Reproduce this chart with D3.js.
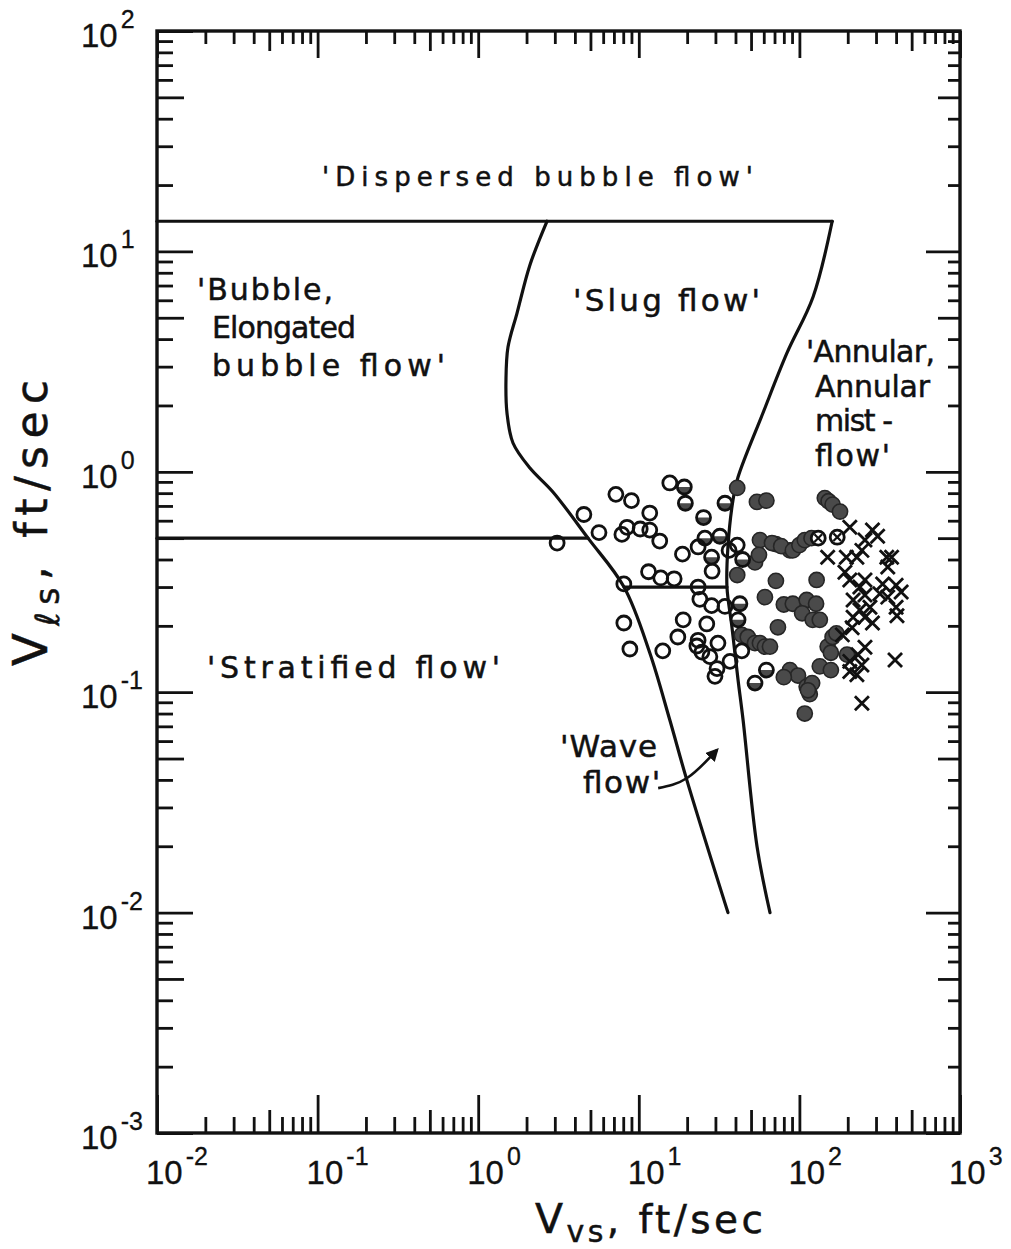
<!DOCTYPE html>
<html><head><meta charset="utf-8">
<script src="https://cdn.jsdelivr.net/npm/d3@7"></script>
<style>
html,body{margin:0;padding:0;background:#fff;}
svg{display:block;}
text{font-family:"DejaVu Sans",Verdana,sans-serif;fill:#111;stroke:#111;stroke-width:0.5px;}
text.num{font-family:"Liberation Sans",Arial,sans-serif;stroke-width:0.3px;}
</style></head><body>
<svg id="chart" width="1011" height="1249"></svg>
<script>
// ---------------- data (superficial velocities, ft/sec) ----------------
const xDomain = [1e-2, 1e3];          // V_vs
const yDomain = [1e-3, 1e2];          // V_ls
const xDecades = [-2, -1, 0, 1, 2, 3];
const yDecades = [-3, -2, -1, 0, 1, 2];

// regime boundaries [V_vs, V_ls]
const dispersedBoundary  = [[0.01, 13.7], [160, 13.7]];
const stratifiedBoundary = [[0.01, 0.5], [4.83, 0.5]];
const waveBoundary       = [[8.09, 0.30], [35.4, 0.30]];
const slugBubbleBoundary = [[2.68, 13.7], [2.10, 8.68], [1.745, 5.25], [1.533, 3.68], [1.489, 2.61],
  [1.511, 1.848], [1.647, 1.351], [2.10, 1.04], [2.92, 0.81], [4.83, 0.50], [8.09, 0.30],
  [11.7, 0.151], [15.6, 0.0748], [19.9, 0.040], [35.9, 0.010]];
const annularBoundary = [[160, 13.7], [121.6, 6.21], [83.7, 3.46], [59.3, 1.848], [41.5, 0.947],
  [38.6, 0.745], [35.9, 0.456], [35.4, 0.30], [38.0, 0.198], [41.5, 0.1136], [44.6, 0.0748],
  [54.5, 0.0199], [65.6, 0.010]];

// observations [V_vs, V_ls]
const openPoints = [[3.10,0.475],[4.55,0.64],[5.65,0.53],[7.2,0.79],[9.0,0.74],[15.6,0.89],[11.7,0.65],
  [7.85,0.52],[8.45,0.56],[10.2,0.55],[11.7,0.544],[13.5,0.485],[18.7,0.423],[11.5,0.352],[13.7,0.33],
  [16.6,0.327],[8.07,0.31],[8.07,0.206],[8.8,0.157],[14.1,0.154],[17.5,0.178],[18.9,0.213],[26.5,0.204],
  [23.4,0.172],[23.0,0.162],[24.7,0.152],[27.7,0.145],[31.1,0.167],[30.7,0.128],[29.8,0.118],[37.0,0.138],
  [23.4,0.30],[24.0,0.264],[28.4,0.247],[34.4,0.245],[23.4,0.456],[28.6,0.354],[36.5,0.44],[41.0,0.465],
  [43.8,0.154]];
const halfPoints = [[19.2,0.853],[19.5,0.72],[25.3,0.62],[34.4,0.72],[25.8,0.50],[32.0,0.51],[28.4,0.41],
  [44.3,0.40],[42.6,0.252],[41.5,0.213],[62.3,0.126],[52.9,0.110]];
const filledPoints = [[41.0,0.845],[54.4,0.73],[62.3,0.74],[144,0.76],[152,0.735],[161,0.71],[179,0.66],
  [71.4,0.47],[87.3,0.44],[56.8,0.49],[67.5,0.475],[77,0.46],[91,0.44],[100,0.465],[108,0.49],[119,0.50],
  [52.9,0.388],[56,0.42],[41,0.34],[61,0.27],[71.4,0.32],[128,0.323],[80,0.25],[91,0.252],[111,0.262],
  [127,0.252],[104,0.228],[121,0.213],[134,0.213],[73.5,0.197],[43.8,0.182],[47.7,0.178],[52.9,0.167],
  [56.8,0.167],[61,0.161],[65.6,0.161],[150,0.161],[161,0.178],[170,0.185],[157,0.151],[198,0.148],
  [134,0.131],[157,0.126],[87.3,0.126],[98,0.119],[111,0.106],[116,0.098],[108,0.080],[80,0.117],
  [120,0.110],[113,0.102]];
const crossedCirclePoints = [[131,0.50],[172,0.505]];
const crossPoints = [[206,0.56],[285,0.544],[307,0.51],[256,0.49],[150,0.41],[196,0.41],[228,0.41],
  [245,0.44],[350,0.41],[375,0.41],[355,0.37],[192,0.35],[206,0.323],[256,0.323],[238,0.30],[330,0.31],
  [400,0.306],[430,0.285],[216,0.262],[256,0.276],[355,0.27],[317,0.28],[238,0.236],[275,0.243],
  [400,0.243],[216,0.219],[256,0.219],[285,0.206],[405,0.222],[213,0.196],[185,0.182],[256,0.16],
  [232,0.148],[206,0.138],[245,0.133],[206,0.124],[228,0.12],[394,0.14],[245,0.089]];

// ---------------- layout ----------------
const svg = d3.select("#chart");
const plot = {left: 157, right: 960, top: 31, bottom: 1133};
const x = d3.scaleLog().domain(xDomain).range([plot.left, plot.right]);
const y = d3.scaleLog().domain(yDomain).range([plot.bottom, plot.top]);

// region names, anchored in data units (start, end, baseline)
const regionLabels = [
  {t: "'Dispersed bubble flow'", x0: 0.1065, x1: 51.4, y: 19.8, fs: 26},
  {t: "'Bubble,", x0: 0.01774, x1: 0.1247, y: 6.02, fs: 30},
  {t: "Elongated", x0: 0.0220, x1: 0.1734, y: 4.05, fs: 30},
  {t: "bubble flow'", x0: 0.0220, x1: 0.621, y: 2.72, fs: 30},
  {t: "'Slug flow'", x0: 3.89, x1: 56.9, y: 5.36, fs: 31},
  {t: "'Annular,", x0: 110, x1: 699, y: 3.15, fs: 30},
  {t: "Annular", x0: 125, x1: 651, y: 2.18, fs: 30},
  {t: "mist -", x0: 125, x1: 383, y: 1.53, fs: 30},
  {t: "flow'", x0: 125, x1: 367, y: 1.06, fs: 30},
  {t: "'Stratified flow'", x0: 0.0205, x1: 1.367, y: 0.116, fs: 30},
  {t: "'Wave", x0: 3.23, x1: 13.0, y: 0.0508, fs: 31},
  {t: "flow'", x0: 4.49, x1: 13.6, y: 0.0349, fs: 31}
];
const waveArrow = [[13.2, 0.0367], [20.0, 0.0408], [30.7, 0.0547]];

// ---------------- ticks ----------------
function tickSet(decades, kind) {
  const out = [];
  for (let i = 0; i < decades.length; i++) {
    const d = decades[i];
    if (kind === "major") { out.push(Math.pow(10, d)); continue; }
    if (i === decades.length - 1) continue;
    for (let k = 2; k <= 9; k++) {
      if ((kind === "mid") === (k === 5)) out.push(k * Math.pow(10, d));
    }
  }
  return out;
}
const sides = [
  {make: d3.axisBottom, scale: x, dec: xDecades, at: [0, plot.bottom], len: {major: 38, mid: 23, minor: 16}},
  {make: d3.axisTop,    scale: x, dec: xDecades, at: [0, plot.top],    len: {major: 27, mid: 20, minor: 13}},
  {make: d3.axisLeft,   scale: y, dec: yDecades, at: [plot.left, 0],   len: {major: 36, mid: 27, minor: 16}},
  {make: d3.axisRight,  scale: y, dec: yDecades, at: [plot.right, 0],  len: {major: 34, mid: 22, minor: 12}}
];
sides.forEach(s => {
  ["minor", "mid", "major"].forEach(kind => {
    const g = svg.append("g").attr("transform", `translate(${s.at[0]},${s.at[1]})`)
      .call(s.make(s.scale).tickValues(tickSet(s.dec, kind)).tickSize(-s.len[kind]).tickSizeOuter(0).tickFormat(""));
    g.select(".domain").remove();
    g.selectAll(".tick line").attr("stroke", "#111").attr("stroke-width", 2.8);
  });
});

svg.append("rect")
  .attr("x", plot.left).attr("y", plot.top)
  .attr("width", plot.right - plot.left).attr("height", plot.bottom - plot.top)
  .attr("fill", "none").attr("stroke", "#111").attr("stroke-width", 3.4);

// decade labels
xDecades.forEach(d => {
  const t = svg.append("text").attr("class", "num").attr("x", x(Math.pow(10, d)) - 11).attr("y", plot.bottom + 51);
  t.append("tspan").attr("font-size", 33).text("10");
  t.append("tspan").attr("font-size", 25).attr("dx", 3).attr("dy", -19).text(String(d));
});
yDecades.forEach(d => {
  const t = svg.append("text").attr("class", "num").attr("x", 81).attr("y", y(Math.pow(10, d)) + 16);
  t.append("tspan").attr("font-size", 33).text("10");
  t.append("tspan").attr("font-size", 25).attr("dx", 3).attr("dy", -19).text(String(d));
});

// axis titles
const yTitle = svg.append("text").attr("transform", "translate(47,666) rotate(-90)")
  .attr("textLength", 286).attr("lengthAdjust", "spacing");
yTitle.append("tspan").attr("font-size", 48).text("V");
yTitle.append("tspan").attr("font-size", 33).attr("dy", 12).text("ℓs");
yTitle.append("tspan").attr("font-size", 44).attr("dy", -12).text(", ft/sec");

const xTitle = svg.append("text").attr("x", 535).attr("y", 1233)
  .attr("textLength", 228).attr("lengthAdjust", "spacing");
xTitle.append("tspan").attr("font-size", 41).text("V");
xTitle.append("tspan").attr("font-size", 30).attr("dy", 9).text("vs");
xTitle.append("tspan").attr("font-size", 39).attr("dy", -9).text(", ft/sec");

// ---------------- boundaries ----------------
const line = d3.line().x(d => x(d[0])).y(d => y(d[1]));
const curve = d3.line().x(d => x(d[0])).y(d => y(d[1])).curve(d3.curveCatmullRom.alpha(0.5));
const bounds = svg.append("g").attr("fill", "none").attr("stroke", "#111").attr("stroke-width", 3.2)
  .attr("stroke-linejoin", "round").attr("stroke-linecap", "round");
[dispersedBoundary, stratifiedBoundary, waveBoundary].forEach(b => bounds.append("path").attr("d", line(b)));
[slugBubbleBoundary, annularBoundary].forEach(b => bounds.append("path").attr("d", curve(b)));

// ---------------- observations ----------------
const pts = svg.append("g");
const dark = "#4a4a4a";
pts.selectAll(".filled").data(filledPoints).join("circle")
  .attr("cx", d => x(d[0])).attr("cy", d => y(d[1])).attr("r", 7.6)
  .attr("fill", dark).attr("stroke", "#262626").attr("stroke-width", 1.6);
halfPoints.forEach(d => {
  const cx = x(d[0]), cy = y(d[1]), r = 7;
  const g = pts.append("g").attr("transform", `translate(${cx},${cy})`);
  g.append("circle").attr("r", r).attr("fill", "#fff");
  g.append("path").attr("d", d3.arc()({innerRadius: 0, outerRadius: r, startAngle: Math.PI / 2, endAngle: 3 * Math.PI / 2}))
    .attr("fill", dark);
  g.append("circle").attr("r", r).attr("fill", "none").attr("stroke", "#111").attr("stroke-width", 2.8);
});
pts.selectAll(".open").data(openPoints).join("circle")
  .attr("cx", d => x(d[0])).attr("cy", d => y(d[1])).attr("r", 7)
  .attr("fill", "none").attr("stroke", "#111").attr("stroke-width", 2.8);
crossedCirclePoints.forEach(d => {
  const g = pts.append("g").attr("transform", `translate(${x(d[0])},${y(d[1])})`);
  g.append("circle").attr("r", 7).attr("fill", "#fff").attr("stroke", "#111").attr("stroke-width", 2.8);
  g.append("path").attr("d", "M-3.8,-3.8L3.8,3.8M-3.8,3.8L3.8,-3.8").attr("stroke", "#111").attr("stroke-width", 2.2);
});
pts.selectAll(".cross").data(crossPoints).join("path")
  .attr("transform", d => `translate(${x(d[0])},${y(d[1])})`)
  .attr("d", "M-7,-7L7,7M-7,7L7,-7")
  .attr("stroke", "#111").attr("stroke-width", 2.8).attr("fill", "none");

// ---------------- region names ----------------
regionLabels.forEach(l => {
  svg.append("text").attr("x", x(l.x0)).attr("y", y(l.y))
    .attr("font-size", l.fs)
    .attr("textLength", x(l.x1) - x(l.x0)).attr("lengthAdjust", "spacing")
    .text(l.t);
});

// arrow from the wave label into the wave region
svg.append("defs").append("marker").attr("id", "head")
  .attr("viewBox", "0 0 10 10").attr("refX", 8).attr("refY", 5)
  .attr("markerWidth", 5).attr("markerHeight", 5).attr("orient", "auto")
  .append("path").attr("d", "M0,0L10,5L0,10z").attr("fill", "#111");
svg.append("path")
  .attr("d", d3.line().x(d => x(d[0])).y(d => y(d[1])).curve(d3.curveNatural)(waveArrow))
  .attr("fill", "none").attr("stroke", "#111").attr("stroke-width", 2.6)
  .attr("marker-end", "url(#head)");
</script>
</body></html>
